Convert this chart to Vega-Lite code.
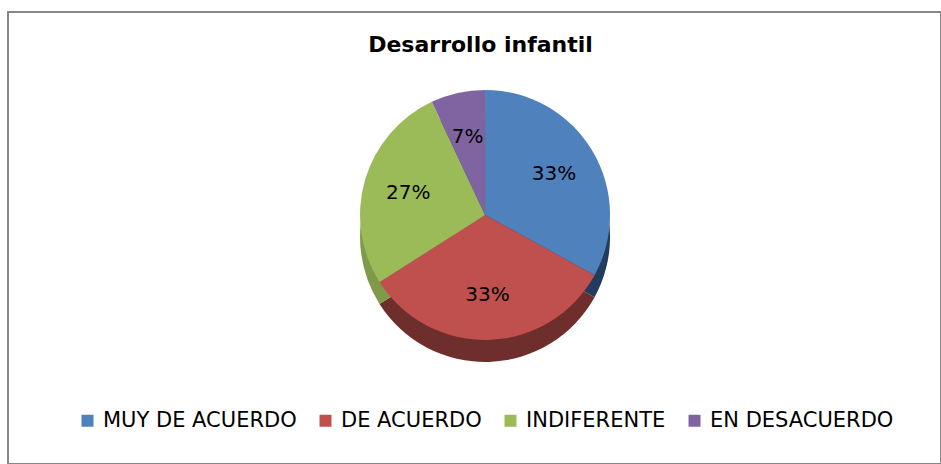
{
  "$schema": "https://vega.github.io/schema/vega-lite/v6.json",
  "width": 941,
  "height": 464,
  "autosize": {"type": "fit", "contains": "padding"},
  "padding": {"left": 8, "top": 12, "right": 0, "bottom": 0},
  "background": "white",
  "view": {"stroke": "#878787", "strokeWidth": 2},
  "title": {
    "text": "Desarrollo infantil",
    "font": "DejaVu Sans",
    "fontSize": 22,
    "fontWeight": "bold",
    "color": "#000000",
    "anchor": "middle",
    "offset": -45,
    "dx": 6
  },
  "data": {
    "values": [
      {"categoria": "MUY DE ACUERDO", "valor": 0.33},
      {"categoria": "DE ACUERDO", "valor": 0.33},
      {"categoria": "INDIFERENTE", "valor": 0.27},
      {"categoria": "EN DESACUERDO", "valor": 0.07}
    ]
  },
  "transform": [
    {"window": [{"op": "row_number", "as": "orden"}]}
  ],
  "encoding": {
    "theta": {"field": "valor", "type": "quantitative", "stack": true},
    "order": {"field": "orden", "type": "quantitative", "sort": "ascending"}
  },
  "layer": [
    {
      "mark": {"type": "arc", "outerRadius": 125, "x": {"expr": "width*0.5113"}, "y": {"expr": "height*0.449 + 22"}},
      "encoding": {
        "color": {
          "field": "categoria",
          "type": "nominal",
          "scale": {"domain": ["MUY DE ACUERDO", "DE ACUERDO", "INDIFERENTE", "EN DESACUERDO"], "range": ["#213c5e", "#6e2e2c", "#7f9a48", "#5e4a78"]},
          "legend": null
        }
      }
    },
    {
      "mark": {"type": "arc", "outerRadius": 125, "x": {"expr": "width*0.5113"}, "y": {"expr": "height*0.449"}},
      "encoding": {
        "color": {
          "field": "categoria",
          "type": "nominal",
          "scale": {"domain": ["MUY DE ACUERDO", "DE ACUERDO", "INDIFERENTE", "EN DESACUERDO"], "range": ["#4f81bd", "#c0504d", "#9bbb59", "#8064a2"]},
          "legend": {
            "orient": "none",
            "legendX": 69,
            "legendY": 398,
            "direction": "horizontal",
            "title": null,
            "symbolType": "square",
            "symbolSize": 144,
            "symbolStrokeWidth": 0,
            "labelFont": "DejaVu Sans",
            "labelFontSize": 21,
            "labelColor": "#000000",
            "labelLimit": 400,
            "columnPadding": 18,
            "labelOffset": 5
          }
        }
      }
    },
    {
      "mark": {"type": "text", "radius": 80, "x": {"expr": "width*0.5113"}, "y": {"expr": "height*0.449"}, "font": "DejaVu Sans", "fontSize": 20, "color": "#000000"},
      "encoding": {
        "text": {"field": "valor", "type": "quantitative", "format": ".0%"}
      }
    }
  ],
  "resolve": {"scale": {"theta": "shared", "color": "independent"}, "legend": {"color": "independent"}}
}
